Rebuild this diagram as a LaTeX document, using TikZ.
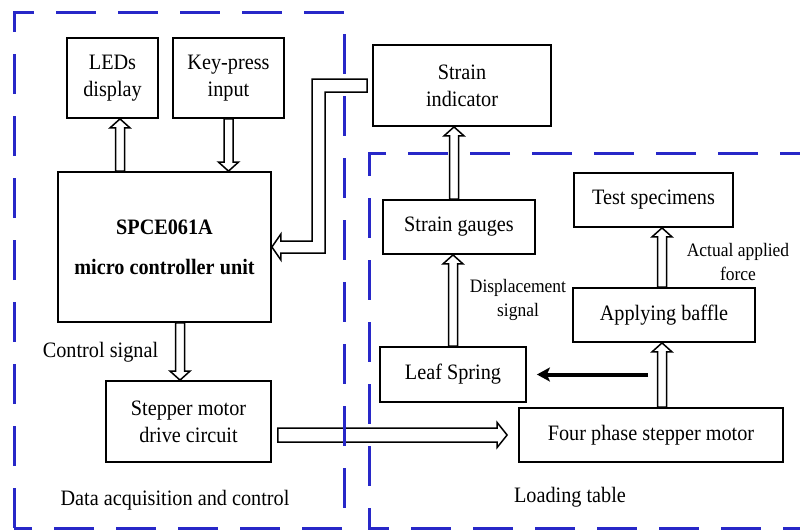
\documentclass[tikz,border=0pt]{standalone}
\usepackage{fontspec}
\setmainfont{Liberation Serif}[FakeStretch=0.92]
\usetikzlibrary{arrows.meta,calc}
\definecolor{dashblue}{RGB}{40,40,200}
\tikzset{
 box/.style={draw, line width=1.8pt, inner sep=0pt, align=center, font=\fontsize{22}{27}\selectfont},
 hollow/.style={draw, line width=1.5pt, line join=miter},
 lbl/.style={inner sep=0pt, align=center, font=\fontsize{22}{27}\selectfont},
 slbl/.style={inner sep=0pt, align=center, font=\fontsize{19}{24}\selectfont},
 region/.style={draw=dashblue, line width=3pt, dash pattern=on 40pt off 22pt},
}
% hollow arrows: #1 tail, #2 tip
\newcommand\hup[2]{\draw[hollow] let \p1=(#1), \p2=(#2) in
 (\x1-4.5pt,\y1) -- (\x1-4.5pt,\y2-9pt) -- (\x1-10pt,\y2-9pt) -- (\x1,\y2) --
 (\x1+10pt,\y2-9pt) -- (\x1+4.5pt,\y2-9pt) -- (\x1+4.5pt,\y1) -- cycle;}
\newcommand\hdown[2]{\draw[hollow] let \p1=(#1), \p2=(#2) in
 (\x1-4.5pt,\y1) -- (\x1-4.5pt,\y2+9pt) -- (\x1-10pt,\y2+9pt) -- (\x1,\y2) --
 (\x1+10pt,\y2+9pt) -- (\x1+4.5pt,\y2+9pt) -- (\x1+4.5pt,\y1) -- cycle;}
\newcommand\hright[2]{\draw[hollow] let \p1=(#1), \p2=(#2) in
 (\x1,\y1+7pt) -- (\x2-10pt,\y1+7pt) -- (\x2-10pt,\y1+12.5pt) -- (\x2,\y1) --
 (\x2-10pt,\y1-12.5pt) -- (\x2-10pt,\y1-7pt) -- (\x1,\y1-7pt) -- cycle;}
\begin{document}
\begin{tikzpicture}[x=1pt,y=-1pt]
\useasboundingbox (0,0) rectangle (800,531);

% boxes
\node[box, minimum width=91pt, minimum height=80pt] (leds) at (112.5,78) {LEDs\\display};
\node[box, minimum width=111pt, minimum height=80pt] (key) at (228.5,78) {Key-press\\input};
\node[box, minimum width=178pt, minimum height=81pt] (ind) at (462,85.5) {Strain\\indicator};
\node[box, minimum width=213pt, minimum height=150pt, font=\fontsize{22}{40}\selectfont\bfseries] (mcu) at (164.5,247) {SPCE061A\\micro controller unit};
\node[box, minimum width=152pt, minimum height=54pt] (gauge) at (459,227) {Strain gauges};
\node[box, minimum width=159pt, minimum height=54pt] (spec) at (653.5,200) {Test specimens};
\node[box, minimum width=182pt, minimum height=54pt] (baffle) at (664,315) {Applying baffle};
\node[box, minimum width=146pt, minimum height=55pt] (leaf) at (453,374.5) {Leaf Spring};
\node[box, minimum width=264pt, minimum height=54pt] (motor) at (651,435) {Four phase stepper motor};
\node[box, minimum width=165pt, minimum height=81pt] (drive) at (188.5,421.5) {Stepper motor\\drive circuit};

% labels
\node[lbl] (ctrl) at (100.5,352) {Control signal};
\node[slbl] (disp) at (518,300) {Displacement\\signal};
\node[slbl] (force) at (738,262) {Actual applied\\force};
\node[lbl] (dac) at (175,500) {Data acquisition and control};
\node[lbl] (load) at (570,497) {Loading table};

% arrow guide coordinates
\coordinate (a1) at (120,0);
\coordinate (a3) at (454,0);
\coordinate (a5) at (662,0);
\coordinate (a7) at (180,0);
\coordinate (elb) at (318.5,0);
\coordinate (push) at (648,0);

% hollow arrows
\hup{a1 |- mcu.north}{a1 |- leds.south}
\hdown{key.south}{key.south |- mcu.north}
\hup{a3 |- gauge.north}{a3 |- ind.south}
\hup{leaf.north}{leaf.north |- gauge.south}
\hup{a5 |- baffle.north}{a5 |- spec.south}
\hup{a5 |- motor.north}{a5 |- baffle.south}
\hdown{a7 |- mcu.south}{a7 |- drive.north}
\hright{$(drive.east |- motor.west)+(6,0)$}{$(motor.west)+(-11,0)$}

% elbow hollow arrow from strain indicator to MCU
\draw[hollow] let \p1=($(ind.west)+(-5,0)$), \p2=(mcu.east), \p3=(elb) in
 (\x1,\y1+6.5pt) -- (\x3-6.5pt,\y1+6.5pt) -- (\x3-6.5pt,\y2+6pt) -- (\x2+9pt,\y2+6pt) --
 (\x2+9pt,\y2+13pt) -- (\x2,\y2) -- (\x2+9pt,\y2-13pt) -- (\x2+9pt,\y2-6pt) --
 (\x3+6.5pt,\y2-6pt) -- (\x3+6.5pt,\y1-6.5pt) -- (\x1,\y1-6.5pt) -- cycle;

% solid arrow
\draw[line width=4pt, -{Stealth[length=13pt,width=14pt,inset=3pt]}, shorten >=10pt] (push |- leaf.east) -- (leaf.east);

% dashed regions
\draw[region] (14,528) -- (14,12) -- (344,12) -- (344,528) -- cycle;
\draw[region] (820,153) -- (369,153) -- (369,528) -- (820,528);
\end{tikzpicture}
\end{document}
